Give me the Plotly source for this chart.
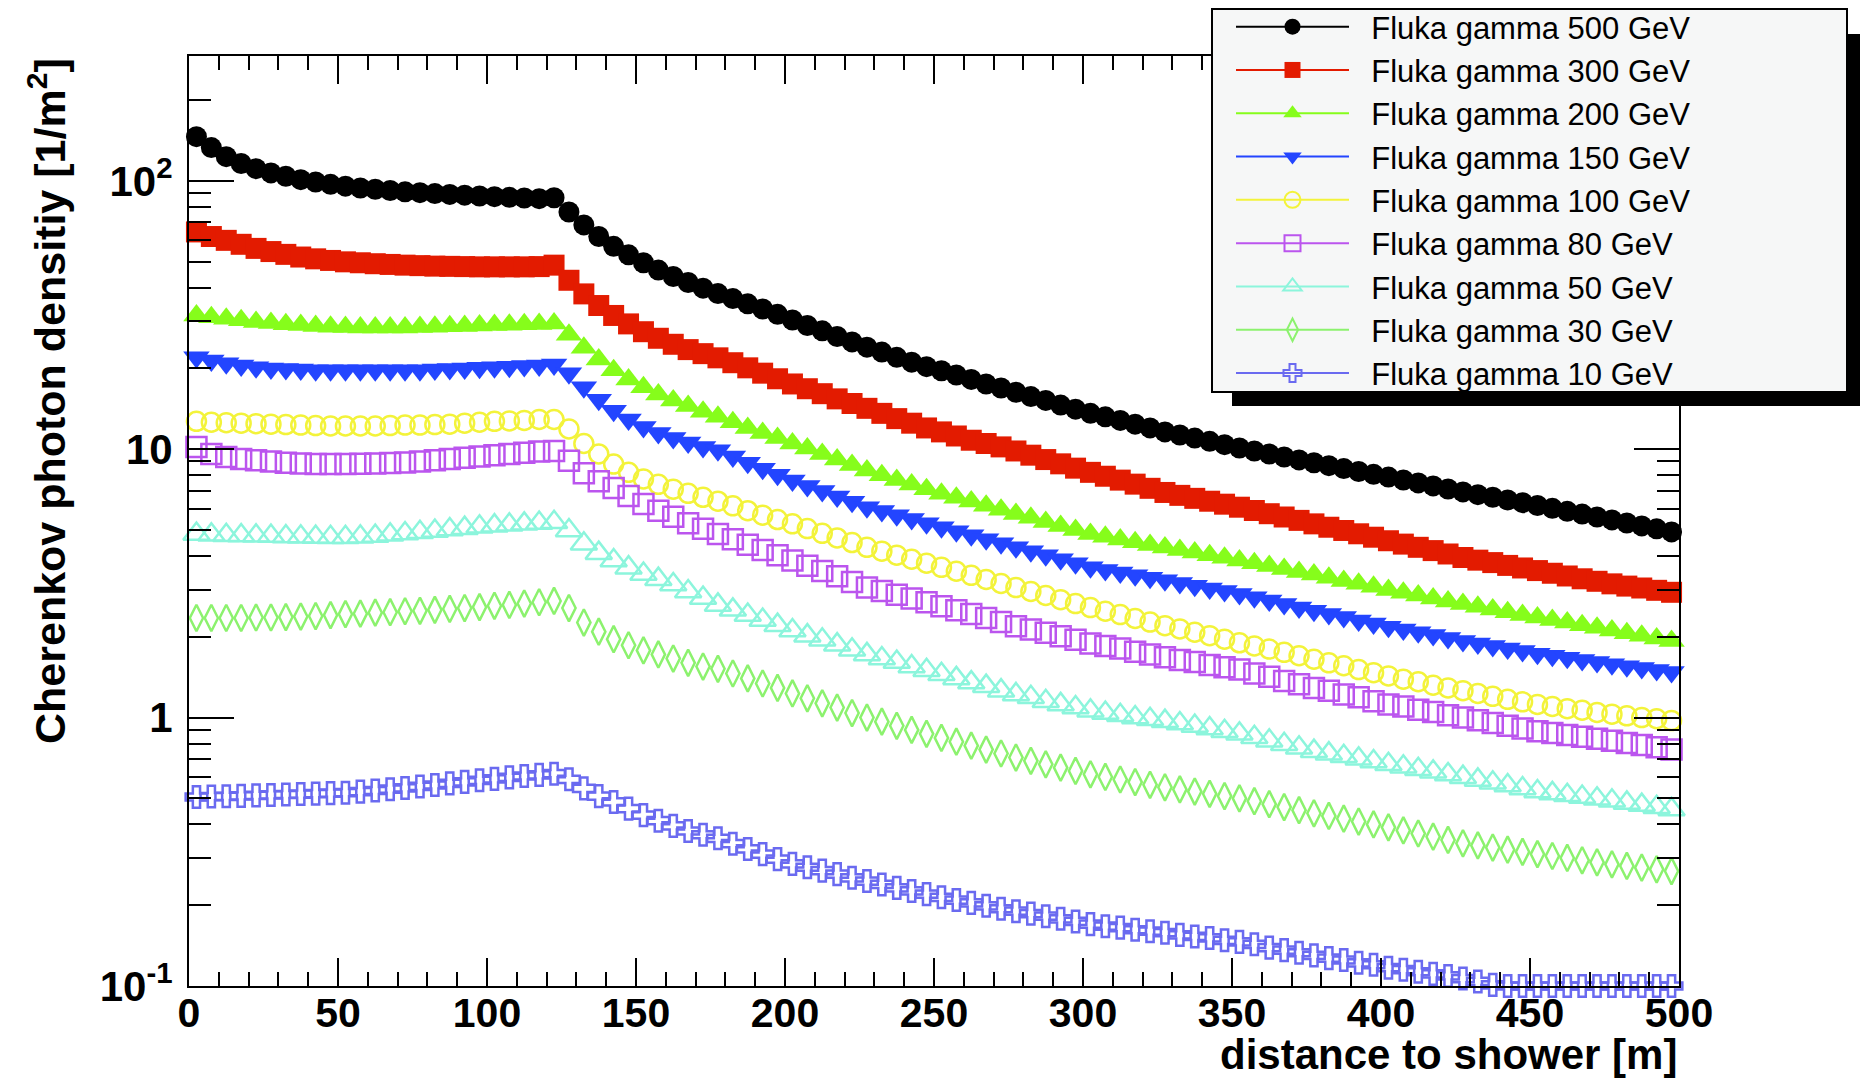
import plotly.graph_objects as go

# ---------------- data ----------------
distance = [
    2.5, 7.5, 12.5, 17.5, 22.5, 27.5, 32.5, 37.5, 42.5, 47.5,
    52.5, 57.5, 62.5, 67.5, 72.5, 77.5, 82.5, 87.5, 92.5, 97.5,
    102.5, 107.5, 112.5, 117.5, 122.5, 127.5, 132.5, 137.5, 142.5, 147.5,
    152.5, 157.5, 162.5, 167.5, 172.5, 177.5, 182.5, 187.5, 192.5, 197.5,
    202.5, 207.5, 212.5, 217.5, 222.5, 227.5, 232.5, 237.5, 242.5, 247.5,
    252.5, 257.5, 262.5, 267.5, 272.5, 277.5, 282.5, 287.5, 292.5, 297.5,
    302.5, 307.5, 312.5, 317.5, 322.5, 327.5, 332.5, 337.5, 342.5, 347.5,
    352.5, 357.5, 362.5, 367.5, 372.5, 377.5, 382.5, 387.5, 392.5, 397.5,
    402.5, 407.5, 412.5, 417.5, 422.5, 427.5, 432.5, 437.5, 442.5, 447.5,
    452.5, 457.5, 462.5, 467.5, 472.5, 477.5, 482.5, 487.5, 492.5, 497.5,
]

gamma_500 = [
    146, 133, 123, 116, 111, 107, 104, 101, 99, 97,
    95.5, 94, 93, 92, 91, 90.3, 89.6, 89, 88.4, 87.8,
    87.3, 86.8, 86.3, 85.8, 86.5, 76.5, 68.5, 62, 57, 53,
    49.5, 46.5, 44, 41.8, 39.8, 38, 36.4, 34.8, 33.3, 31.8,
    30.3, 28.9, 27.6, 26.3, 25.1, 24.0, 23.0, 22.0, 21.1, 20.3,
    19.6, 18.9, 18.2, 17.5, 16.9, 16.3, 15.7, 15.2, 14.6, 14.1,
    13.6, 13.2, 12.8, 12.4, 12.0, 11.6, 11.3, 11.0, 10.7, 10.4,
    10.1, 9.85, 9.6, 9.35, 9.12, 8.9, 8.68, 8.47, 8.26, 8.06,
    7.87, 7.68, 7.49, 7.3, 7.11, 6.93, 6.77, 6.62, 6.47, 6.32,
    6.17, 6.02, 5.87, 5.73, 5.59, 5.45, 5.31, 5.18, 5.05, 4.92,
]

gamma_300 = [
    64.5, 62, 60, 58, 56, 54.5, 53.2, 52, 51.2, 50.5,
    49.9, 49.5, 49.1, 48.8, 48.5, 48.3, 48.1, 48.0, 47.9, 47.8,
    47.8, 47.8, 47.8, 47.9, 48.5, 42.6, 37.9, 34.3, 31.5, 29.3,
    27.4, 25.9, 24.6, 23.5, 22.7, 21.9, 21.0, 20.1, 19.2, 18.3,
    17.5, 16.8, 16.1, 15.4, 14.8, 14.2, 13.6, 13.0, 12.5, 12.0,
    11.6, 11.2, 10.8, 10.5, 10.2, 9.85, 9.5, 9.15, 8.82, 8.5,
    8.2, 7.93, 7.67, 7.41, 7.15, 6.9, 6.73, 6.56, 6.4, 6.24,
    6.08, 5.91, 5.75, 5.59, 5.43, 5.27, 5.12, 4.98, 4.84, 4.7,
    4.56, 4.43, 4.31, 4.19, 4.07, 3.95, 3.86, 3.78, 3.69, 3.61,
    3.53, 3.45, 3.37, 3.29, 3.22, 3.15, 3.09, 3.04, 2.98, 2.93,
]

gamma_200 = [
    31.5, 31.0, 30.6, 30.2, 29.8, 29.5, 29.2, 29.0, 28.8, 28.6,
    28.5, 28.4, 28.4, 28.4, 28.4, 28.5, 28.6, 28.7, 28.8, 28.9,
    29.0, 29.1, 29.2, 29.3, 29.4, 26.7, 23.9, 21.6, 19.7, 18.2,
    17.0, 16.0, 15.2, 14.5, 13.8, 13.2, 12.6, 12.0, 11.5, 11.0,
    10.5, 10.05, 9.6, 9.15, 8.73, 8.33, 8.0, 7.68, 7.38, 7.1,
    6.82, 6.6, 6.38, 6.16, 5.95, 5.74, 5.55, 5.36, 5.18, 5.0,
    4.83, 4.72, 4.61, 4.5, 4.4, 4.3, 4.21, 4.12, 4.03, 3.94,
    3.85, 3.76, 3.67, 3.58, 3.49, 3.41, 3.32, 3.23, 3.15, 3.07,
    2.99, 2.92, 2.85, 2.78, 2.71, 2.65, 2.59, 2.53, 2.47, 2.41,
    2.36, 2.31, 2.26, 2.21, 2.16, 2.11, 2.06, 2.02, 1.97, 1.93,
]

gamma_150 = [
    22.0, 21.4, 20.9, 20.5, 20.2, 20.0, 19.9, 19.8, 19.7, 19.7,
    19.7, 19.7, 19.7, 19.7, 19.7, 19.7, 19.8, 19.9, 20.0, 20.1,
    20.2, 20.3, 20.4, 20.5, 20.7, 19.2, 17.0, 15.3, 13.9, 12.9,
    12.1, 11.5, 11.0, 10.6, 10.2, 9.9, 9.4, 8.9, 8.45, 8.03,
    7.64, 7.3, 6.98, 6.67, 6.37, 6.08, 5.88, 5.68, 5.49, 5.3,
    5.12, 4.95, 4.78, 4.62, 4.46, 4.31, 4.17, 4.03, 3.89, 3.76,
    3.63, 3.55, 3.47, 3.39, 3.32, 3.25, 3.17, 3.1, 3.03, 2.96,
    2.89, 2.81, 2.73, 2.65, 2.57, 2.5, 2.43, 2.37, 2.3, 2.24,
    2.18, 2.13, 2.08, 2.03, 1.98, 1.93, 1.89, 1.85, 1.81, 1.77,
    1.73, 1.7, 1.67, 1.64, 1.61, 1.58, 1.555, 1.53, 1.505, 1.48,
]

gamma_100 = [
    12.7, 12.6, 12.55, 12.5, 12.45, 12.4, 12.35, 12.3, 12.25, 12.2,
    12.2, 12.2, 12.2, 12.25, 12.3, 12.3, 12.35, 12.4, 12.5, 12.6,
    12.7, 12.75, 12.8, 12.9, 12.9, 11.9, 10.5, 9.6, 8.8, 8.2,
    7.75, 7.4, 7.1, 6.85, 6.62, 6.4, 6.15, 5.9, 5.68, 5.47,
    5.27, 5.06, 4.86, 4.67, 4.49, 4.31, 4.17, 4.03, 3.89, 3.76,
    3.63, 3.51, 3.39, 3.27, 3.16, 3.05, 2.95, 2.85, 2.75, 2.66,
    2.57, 2.49, 2.42, 2.34, 2.27, 2.2, 2.14, 2.08, 2.02, 1.96,
    1.9, 1.85, 1.8, 1.75, 1.7, 1.65, 1.6, 1.56, 1.51, 1.47,
    1.43, 1.39, 1.36, 1.32, 1.29, 1.26, 1.23, 1.2, 1.17, 1.145,
    1.12, 1.1, 1.08, 1.065, 1.045, 1.03, 1.015, 1.0, 0.99, 0.975,
]

gamma_80 = [
    10.2, 9.6, 9.35, 9.2, 9.1, 9.0, 8.9, 8.85, 8.8, 8.8,
    8.8, 8.82, 8.85, 8.88, 8.93, 9.0, 9.1, 9.2, 9.3, 9.4,
    9.5, 9.6, 9.7, 9.8, 9.85, 9.06, 8.13, 7.59, 7.17, 6.7,
    6.25, 5.9, 5.6, 5.3, 5.05, 4.83, 4.62, 4.41, 4.21, 4.03,
    3.85, 3.68, 3.52, 3.36, 3.2, 3.05, 2.96, 2.87, 2.78, 2.69,
    2.6, 2.51, 2.43, 2.35, 2.27, 2.19, 2.13, 2.07, 2.01, 1.95,
    1.89, 1.85, 1.81, 1.76, 1.72, 1.68, 1.64, 1.61, 1.57, 1.54,
    1.51, 1.46, 1.42, 1.37, 1.33, 1.29, 1.26, 1.22, 1.19, 1.15,
    1.12, 1.1, 1.07, 1.05, 1.02, 1.0, 0.977, 0.955, 0.933, 0.911,
    0.89, 0.876, 0.862, 0.848, 0.834, 0.82, 0.805, 0.79, 0.775, 0.76,
]

gamma_50 = [
    4.83, 4.8, 4.78, 4.77, 4.76, 4.75, 4.73, 4.72, 4.71, 4.7,
    4.7, 4.72, 4.75, 4.8, 4.85, 4.9, 4.96, 5.02, 5.08, 5.14,
    5.19, 5.23, 5.27, 5.31, 5.34, 4.98, 4.44, 4.1, 3.85, 3.62,
    3.43, 3.28, 3.13, 2.95, 2.79, 2.63, 2.52, 2.41, 2.31, 2.21,
    2.11, 2.02, 1.95, 1.87, 1.79, 1.72, 1.66, 1.61, 1.55, 1.5,
    1.45, 1.4, 1.35, 1.31, 1.26, 1.22, 1.19, 1.15, 1.12, 1.09,
    1.06, 1.04, 1.02, 1.0, 0.985, 0.97, 0.95, 0.93, 0.91, 0.89,
    0.87, 0.845, 0.82, 0.795, 0.772, 0.75, 0.734, 0.718, 0.702, 0.686,
    0.67, 0.656, 0.642, 0.628, 0.614, 0.6, 0.586, 0.572, 0.558, 0.544,
    0.53, 0.522, 0.514, 0.506, 0.498, 0.49, 0.481, 0.472, 0.463, 0.455,
]

gamma_30 = [
    2.35, 2.35, 2.35, 2.35, 2.36, 2.36, 2.37, 2.38, 2.39, 2.41,
    2.43, 2.44, 2.46, 2.47, 2.49, 2.5, 2.52, 2.54, 2.56, 2.58,
    2.61, 2.63, 2.66, 2.69, 2.72, 2.56, 2.26, 2.09, 1.96, 1.86,
    1.78, 1.72, 1.66, 1.6, 1.55, 1.52, 1.46, 1.4, 1.34, 1.29,
    1.23, 1.18, 1.13, 1.09, 1.04, 1.0, 0.966, 0.932, 0.9, 0.87,
    0.84, 0.813, 0.786, 0.76, 0.735, 0.71, 0.69, 0.67, 0.651, 0.633,
    0.615, 0.601, 0.588, 0.575, 0.562, 0.55, 0.54, 0.53, 0.52, 0.51,
    0.5, 0.488, 0.476, 0.464, 0.452, 0.44, 0.43, 0.42, 0.41, 0.4,
    0.39, 0.38, 0.37, 0.36, 0.35, 0.34, 0.334, 0.328, 0.322, 0.316,
    0.31, 0.305, 0.3, 0.294, 0.289, 0.284, 0.28, 0.276, 0.272, 0.268,
]

gamma_10 = [
    0.506, 0.508, 0.509, 0.511, 0.513, 0.515, 0.517, 0.519, 0.521, 0.523,
    0.525, 0.53, 0.535, 0.541, 0.547, 0.554, 0.561, 0.569, 0.576, 0.584,
    0.591, 0.599, 0.606, 0.612, 0.618, 0.589, 0.545, 0.51, 0.485, 0.458,
    0.433, 0.413, 0.395, 0.378, 0.366, 0.355, 0.339, 0.324, 0.31, 0.297,
    0.285, 0.277, 0.269, 0.261, 0.253, 0.246, 0.239, 0.232, 0.226, 0.22,
    0.214, 0.209, 0.204, 0.199, 0.194, 0.19, 0.186, 0.182, 0.178, 0.174,
    0.17, 0.167, 0.165, 0.162, 0.16, 0.158, 0.155, 0.153, 0.151, 0.148,
    0.146, 0.143, 0.139, 0.136, 0.133, 0.13, 0.127, 0.125, 0.122, 0.12,
    0.117, 0.115, 0.113, 0.111, 0.109, 0.1066, 0.104, 0.101, 0.1, 0.1,
    0.1, 0.1, 0.1, 0.1, 0.1, 0.1, 0.1, 0.1, 0.1, 0.1,
]

series_names = [
    "Fluka gamma 500 GeV", "Fluka gamma 300 GeV", "Fluka gamma 200 GeV",
    "Fluka gamma 150 GeV", "Fluka gamma 100 GeV", "Fluka gamma 80 GeV",
    "Fluka gamma 50 GeV", "Fluka gamma 30 GeV", "Fluka gamma 10 GeV",
]
series_values = [gamma_500, gamma_300, gamma_200, gamma_150, gamma_100,
                 gamma_80, gamma_50, gamma_30, gamma_10]

y_tick_vals = [0.1, 1, 10, 100]
y_tick_text = ["10<sup>-1</sup>", "1", "10", "10<sup>2</sup>"]
y_minor_vals = [0.2, 0.3, 0.4, 0.5, 0.6, 0.7, 0.8, 0.9,
                2, 3, 4, 5, 6, 7, 8, 9,
                20, 30, 40, 50, 60, 70, 80, 90, 200]

# ---------------- styles ----------------
styles = [
    dict(symbol="circle", size=21, color="#000000", open=False),
    dict(symbol="square", size=21, color="#e31b00", open=False),
    dict(symbol="triangle-up", size=23, color="#86fd1b", open=False),
    dict(symbol="triangle-down", size=23, color="#2345ff", open=False),
    dict(symbol="circle-open", size=19, color="#f3f33a", open=True),
    dict(symbol="square-open", size=20, color="#bb55ee", open=True),
    dict(symbol="triangle-up-open", size=23, color="#8cf5dc", open=True),
    dict(symbol="diamond-tall-open", size=19, color="#8cf26e", open=True),
    dict(symbol="cross-open", size=18, color="#6a6af0", open=True),
]

fig = go.Figure()

for name, vals, st in zip(series_names, series_values, styles):
    mk = dict(symbol=st["symbol"], size=st["size"], color=st["color"])
    if st["open"]:
        mk["line"] = dict(color=st["color"], width=2.5)
    else:
        mk["line"] = dict(width=0)
    fig.add_trace(go.Scatter(
        x=distance, y=vals, mode="markers", marker=mk,
        name=name, showlegend=False, cliponaxis=False,
    ))

# legend entries (line + marker samples, as in the original "LP" legend)
for name, st in zip(series_names, styles):
    mk = dict(symbol=st["symbol"], size=st["size"] - 3, color=st["color"])
    if st["open"]:
        mk["line"] = dict(color=st["color"], width=2)
    else:
        mk["line"] = dict(width=0)
    fig.add_trace(go.Scatter(
        x=[None], y=[None], mode="lines+markers", marker=mk,
        line=dict(color=st["color"], width=2),
        name="\u00a0\u00a0" + name, showlegend=True,
    ))

FONT = "Liberation Sans"
L, R, T, B = 189, 183, 56, 93
W, H = 1862, 1079
pw, ph = W - L - R, H - T - B


def px_x(x):
    return (x - L) / pw


def px_y(y):
    return (H - B - y) / ph


fig.update_layout(
    width=W, height=H,
    margin=dict(l=L, r=R, t=T, b=B, pad=0, autoexpand=False),
    paper_bgcolor="white", plot_bgcolor="white",
    font=dict(family=FONT, color="black"),
    showlegend=True,
    legend=dict(
        x=px_x(1231), y=px_y(0), xanchor="left", yanchor="top",
        bgcolor="rgba(0,0,0,0)", borderwidth=0,
        font=dict(family=FONT, size=31, color="black"),
        itemwidth=113, tracegroupgap=0,
    ),
    xaxis=dict(
        range=[0, 500], showgrid=False, zeroline=False,
        showline=True, linecolor="black", linewidth=2, mirror="ticks",
        ticks="inside", ticklen=28, tickwidth=2, tickcolor="black",
        tick0=0, dtick=50,
        minor=dict(ticks="inside", ticklen=14, tickwidth=2, tickcolor="black",
                   dtick=10, showgrid=False),
        tickfont=dict(family=FONT, size=41, color="black", weight="bold"),
        ticklabelstandoff=-10,
    ),
    yaxis=dict(
        type="log", range=[-1, 2.465], showgrid=False, zeroline=False,
        showline=True, linecolor="black", linewidth=2, mirror="ticks",
        ticks="inside", ticklen=45, tickwidth=2, tickcolor="black",
        tickmode="array", tickvals=y_tick_vals, ticktext=y_tick_text,
        minor=dict(ticks="inside", ticklen=22, tickwidth=2, tickcolor="black",
                   tickmode="array", tickvals=y_minor_vals, showgrid=False),
        tickfont=dict(family=FONT, size=42, color="black", weight="bold"),
        ticklabelstandoff=6,
    ),
    shapes=[
        # legend shadow
        dict(type="rect", xref="paper", yref="paper",
             x0=px_x(1232), x1=px_x(1860), y0=px_y(406), y1=px_y(34),
             fillcolor="black", line=dict(width=0), layer="above"),
        # legend box
        dict(type="rect", xref="paper", yref="paper",
             x0=px_x(1212), x1=px_x(1847), y0=px_y(392), y1=px_y(9),
             fillcolor="#f6f7f7", line=dict(color="black", width=2),
             layer="above"),
    ],
    annotations=[
        dict(text="distance to shower [m]", xref="paper", yref="paper",
             x=1.0, y=px_y(1054), xanchor="right", yanchor="middle",
             showarrow=False,
             font=dict(family=FONT, size=42, color="black", weight="bold")),
        dict(text="Cherenkov photon densitiy [1/m<sup>2</sup>]",
             xref="paper", yref="paper", textangle=-90,
             x=px_x(47), y=1.0, xanchor="center", yanchor="top",
             showarrow=False,
             font=dict(family=FONT, size=43, color="black", weight="bold")),
    ],
)

fig.write_html("out.html")
